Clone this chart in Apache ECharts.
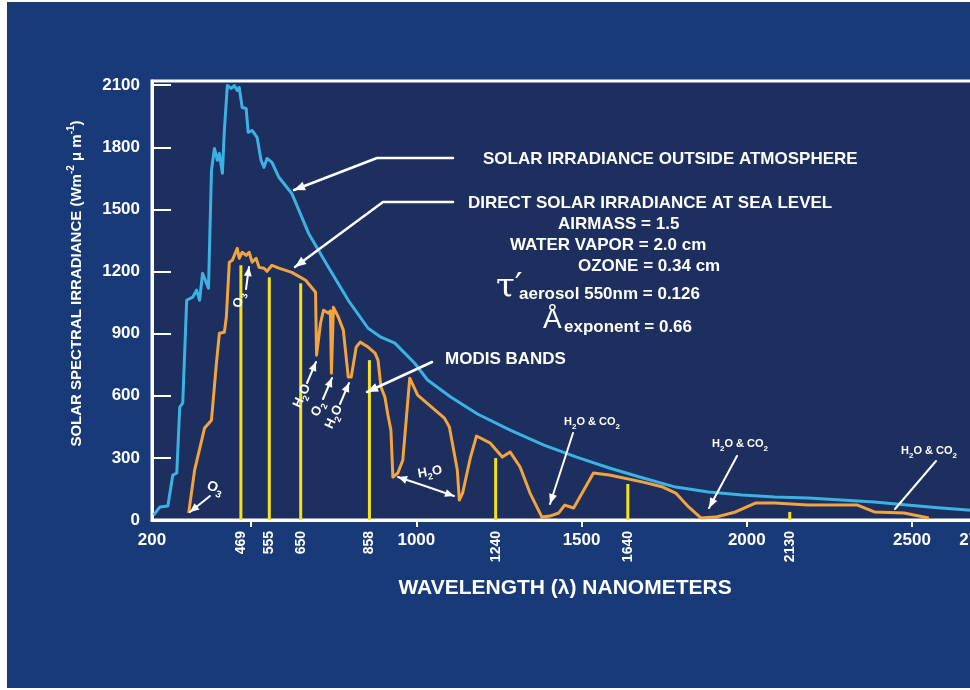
<!DOCTYPE html>
<html>
<head>
<meta charset="utf-8">
<script src="https://cdn.jsdelivr.net/npm/echarts@6/dist/echarts.min.js"></script>
<style>
  html, body { margin: 0; padding: 0; background: #ffffff; overflow: hidden; width: 970px; height: 690px; }
  #chart { position: absolute; left: 0; top: 0; width: 1000px; height: 690px; }
</style>
</head>
<body>
<div id="chart"></div>
<script>
// Solar spectral irradiance outside the atmosphere: [wavelength nm, W m-2 um-1]
const outsideAtmosphere = [
  [205, 24], [224, 63], [248, 68], [263, 217], [275, 227], [284, 545], [293, 564],
  [305, 1061], [323, 1076], [335, 1110], [344, 1061], [353, 1191], [365, 1143], [371, 1119],
  [380, 1688], [389, 1794], [398, 1737], [404, 1770], [413, 1674], [419, 1881], [428, 2098],
  [440, 2084], [449, 2098], [458, 2074], [464, 2089], [473, 1992], [485, 1987], [491, 1872],
  [503, 1881], [518, 1848], [530, 1737], [539, 1703], [548, 1746], [563, 1727], [584, 1655],
  [623, 1577], [674, 1384], [734, 1220], [794, 1061], [854, 926], [893, 883], [935, 854],
  [995, 757], [1034, 676], [1104, 594], [1185, 512], [1284, 434], [1386, 362], [1485, 304],
  [1584, 251], [1686, 203], [1785, 159], [1884, 135], [1986, 121], [2085, 111], [2185, 106],
  [2287, 96], [2386, 87], [2485, 72], [2587, 58], [2700, 45]
];

// Direct solar irradiance at sea level: [wavelength nm, W m-2 um-1]
const seaLevel = [
  [311, 34], [329, 241], [359, 444], [380, 482], [395, 757], [404, 902], [419, 907],
  [425, 979], [434, 1245], [443, 1254], [458, 1312], [464, 1264], [473, 1293], [485, 1278],
  [494, 1293], [503, 1245], [515, 1264], [524, 1220], [539, 1216], [548, 1201], [563, 1230],
  [584, 1216], [623, 1196], [665, 1158], [695, 1100], [698, 796], [710, 950], [719, 1013],
  [734, 999], [740, 1010], [743, 709], [749, 1027], [764, 979], [779, 917], [794, 690],
  [803, 690], [818, 835], [830, 859], [854, 835], [875, 806], [884, 772], [893, 642],
  [905, 593], [914, 507], [923, 434], [929, 207], [944, 227], [959, 289], [980, 685],
  [1004, 603], [1085, 492], [1100, 449], [1124, 241], [1130, 96], [1140, 130], [1164, 304],
  [1182, 405], [1194, 396], [1224, 371], [1260, 304], [1284, 328], [1314, 256], [1344, 130],
  [1380, 14], [1404, 19], [1431, 34], [1449, 72], [1476, 58], [1536, 227], [1584, 217],
  [1686, 183], [1746, 159], [1785, 130], [1824, 63], [1861, 10], [1906, 14], [1966, 39],
  [2026, 82], [2085, 82], [2185, 72], [2335, 72], [2386, 39], [2476, 34], [2506, 24], [2551, 10]
];

// MODIS band centres (nm) and the height of each band marker
const modisBands = [469, 555, 650, 858, 1240, 1640, 2130];
const modisHeights = [1230, 1172, 1143, 772, 299, 174, 39];

// Axis ticks and labels
const xLabelValues = [200, 1000, 1500, 2000, 2500, 2700];
const xTickValues = [500, 1000, 1500, 2000, 2500];
const yTickValues = [0, 300, 600, 900, 1200, 1500, 1800, 2100];

const FONT = '"Liberation Sans", Arial, Helvetica, sans-serif';
const WHITE = '#ffffff';
const plain = v => String(v);

const chart = echarts.init(document.getElementById('chart'), null, { renderer: 'canvas' });

// ---- annotation helpers (pixel positions of call-outs) ----
function shaft(points, w) {
  return { type: 'polyline', silent: true, z: 20,
    shape: { points: points },
    style: { stroke: WHITE, lineWidth: w || 2.5, fill: null, lineCap: 'round', lineJoin: 'round' } };
}
function head(fx, fy, tx, ty, len, half) {
  len = len || 11; half = half || 4.5;
  const a = Math.atan2(ty - fy, tx - fx);
  const bx = tx - len * Math.cos(a), by = ty - len * Math.sin(a);
  const px = -Math.sin(a) * half, py = Math.cos(a) * half;
  return { type: 'polygon', silent: true, z: 21,
    shape: { points: [[tx, ty], [bx + px, by + py], [bx - px, by - py]] },
    style: { fill: WHITE } };
}
function arrow(points, w, len, half) {
  const n = points.length;
  return [shaft(points, w), head(points[n - 2][0], points[n - 2][1], points[n - 1][0], points[n - 1][1], len, half)];
}
function txt(x, y, text, size, opts) {
  opts = opts || {};
  return { type: 'text', silent: true, z: 22, x: x, y: y,
    rotation: (opts.rot || 0) * Math.PI / 180,
    style: { text: text, fill: WHITE, font: 'bold ' + size + 'px ' + FONT,
      align: opts.align || 'left', verticalAlign: 'middle' } };
}
function chem(x, y, text, size, rot) {
  // text uses {t|..}{s|..} tokens for subscripts
  return { type: 'text', silent: true, z: 22, x: x, y: y,
    rotation: (rot || 0) * Math.PI / 180,
    style: { text: text, fill: WHITE, align: 'center', verticalAlign: 'middle',
      rich: {
        t: { fill: WHITE, font: 'bold ' + size + 'px ' + FONT, lineHeight: size + 6 },
        s: { fill: WHITE, font: 'bold ' + Math.round(size * 0.72) + 'px ' + FONT,
             verticalAlign: 'bottom', lineHeight: Math.round(size * 0.72) + 2 }
      } } };
}

const graphics = [
  // paper edges
  { type: 'rect', silent: true, z: 30, shape: { x: 0, y: 0, width: 7, height: 690 }, style: { fill: '#ffffff' } },
  { type: 'rect', silent: true, z: 30, shape: { x: 0, y: 0, width: 1000, height: 2 }, style: { fill: '#ffffff' } },
  { type: 'rect', silent: true, z: 30, shape: { x: 0, y: 688, width: 1000, height: 2 }, style: { fill: '#ffffff' } },

  // legend-style call-outs
  txt(483, 159, 'SOLAR IRRADIANCE OUTSIDE ATMOSPHERE', 17),
  ...arrow([[453, 158], [377, 158], [294, 190]]),
  txt(468, 203, 'DIRECT SOLAR IRRADIANCE AT SEA LEVEL', 17),
  ...arrow([[453, 202], [383, 202], [295, 267]]),
  txt(558, 224, 'AIRMASS = 1.5', 17),
  txt(510, 245, 'WATER VAPOR = 2.0 cm', 17),
  txt(578, 266, 'OZONE = 0.34 cm', 17),
  { type: 'text', silent: true, z: 22, x: 496, y: 288,
    style: { text: 'τ′', fill: WHITE, font: '34px "DejaVu Serif", serif', align: 'left', verticalAlign: 'middle' } },
  txt(519, 294, 'aerosol 550nm = 0.126', 17),
  { type: 'text', silent: true, z: 22, x: 543, y: 320,
    style: { text: 'Å', fill: WHITE, font: '28px ' + FONT, align: 'left', verticalAlign: 'middle' } },
  txt(564, 327, 'exponent = 0.66', 17),
  txt(445, 359, 'MODIS BANDS', 17),
  ...arrow([[432, 362], [367, 392]]),

  // absorption features
  chem(215, 488, '{t|O}{s|3}', 14, -20),
  ...arrow([[210, 496], [190, 512]], 2, 9, 4),
  chem(239, 300, '{t|O}{s|3}', 13, 78),
  ...arrow([[246, 289], [249, 267]], 2, 9, 4),
  chem(302, 396, '{t|H}{s|2}{t|O}', 13, 65),
  ...arrow([[307, 383], [316, 362]], 2, 9, 4),
  chem(318, 409, '{t|O}{s|2}', 13, 65),
  ...arrow([[323, 399], [332, 378]], 2, 9, 4),
  chem(334, 417, '{t|H}{s|2}{t|O}', 13, 65),
  ...arrow([[340, 404], [349, 383]], 2, 9, 4),
  chem(430, 472, '{t|H}{s|2}{t|O}', 13, 10),
  ...arrow([[425, 486], [398, 477]], 2, 9, 4),
  ...arrow([[425, 486], [454, 496]], 2, 9, 4),

  chem(592, 422, '{t|H}{s|2}{t|O & CO}{s|2}', 11),
  ...arrow([[573, 433], [550, 504]], 2, 10, 4),
  chem(740, 444, '{t|H}{s|2}{t|O & CO}{s|2}', 11),
  ...arrow([[737, 456], [709, 508]], 2, 10, 4),
  chem(929, 451, '{t|H}{s|2}{t|O & CO}{s|2}', 11),
  shaft([[936, 461], [895, 509]], 2)
];

const option = {
  backgroundColor: '#183a78',
  animation: false,
  textStyle: { fontFamily: FONT },
  grid: {
    left: 152, top: 81, width: 833, height: 439,
    show: true, backgroundColor: '#1c2f5e', borderColor: WHITE, borderWidth: 3
  },
  xAxis: [
    {
      type: 'value', min: 200, max: 2700, position: 'bottom',
      name: 'WAVELENGTH (λ) NANOMETERS', nameLocation: 'middle', nameGap: 58,
      nameTextStyle: { color: WHITE, fontSize: 21, fontWeight: 'bold', fontFamily: FONT },
      axisLine: { show: true, lineStyle: { color: WHITE, width: 3 } },
      axisTick: { show: true, customValues: xTickValues, length: 7, lineStyle: { color: WHITE, width: 2 } },
      axisLabel: { customValues: xLabelValues, formatter: plain, color: WHITE, fontSize: 17, fontWeight: 'bold', fontFamily: FONT, margin: 12 },
      splitLine: { show: false }
    },
    {
      type: 'value', min: 200, max: 2700, position: 'bottom', offset: 0,
      axisLine: { show: false }, axisTick: { show: false }, splitLine: { show: false },
      axisLabel: { customValues: modisBands, formatter: plain, rotate: 90, color: WHITE, fontSize: 14, fontWeight: 'bold', fontFamily: FONT, margin: 11 }
    }
  ],
  yAxis: {
    type: 'value', min: 0, max: 2120,
    name: '{b|SOLAR SPECTRAL IRRADIANCE (Wm}{s|-2}{b| μ m}{s|-1}{b|)}',
    nameLocation: 'middle', nameGap: 64,
    nameTextStyle: {
      padding: [0, 0, 0, 34],
      rich: {
        b: { color: WHITE, fontSize: 15, fontWeight: 'bold', fontFamily: FONT, lineHeight: 22 },
        s: { color: WHITE, fontSize: 10, fontWeight: 'bold', fontFamily: FONT, verticalAlign: 'top', lineHeight: 12 }
      }
    },
    axisLine: { show: true, lineStyle: { color: WHITE, width: 3 } },
    axisTick: { show: true, inside: true, customValues: yTickValues, length: 19, lineStyle: { color: WHITE, width: 2 } },
    axisLabel: { customValues: yTickValues, formatter: plain, color: WHITE, fontSize: 17, fontWeight: 'bold', fontFamily: FONT, margin: 12 },
    splitLine: { show: false }
  },
  series: [
    {
      name: 'MODIS bands', type: 'bar', xAxisIndex: 0, z: 2, barWidth: 3,
      itemStyle: { color: '#f6e11c' },
      data: modisBands.map((w, i) => [w, modisHeights[i]])
    },
    {
      name: 'Solar irradiance outside atmosphere', type: 'line', xAxisIndex: 0, z: 3,
      showSymbol: false, symbol: 'none',
      lineStyle: { color: '#3cb2e4', width: 3, join: 'round' },
      data: outsideAtmosphere
    },
    {
      name: 'Direct solar irradiance at sea level', type: 'line', xAxisIndex: 0, z: 4,
      showSymbol: false, symbol: 'none',
      lineStyle: { color: '#f3a43e', width: 3, join: 'round' },
      data: seaLevel
    }
  ],
  graphic: graphics
};

chart.setOption(option);
</script>
</body>
</html>
